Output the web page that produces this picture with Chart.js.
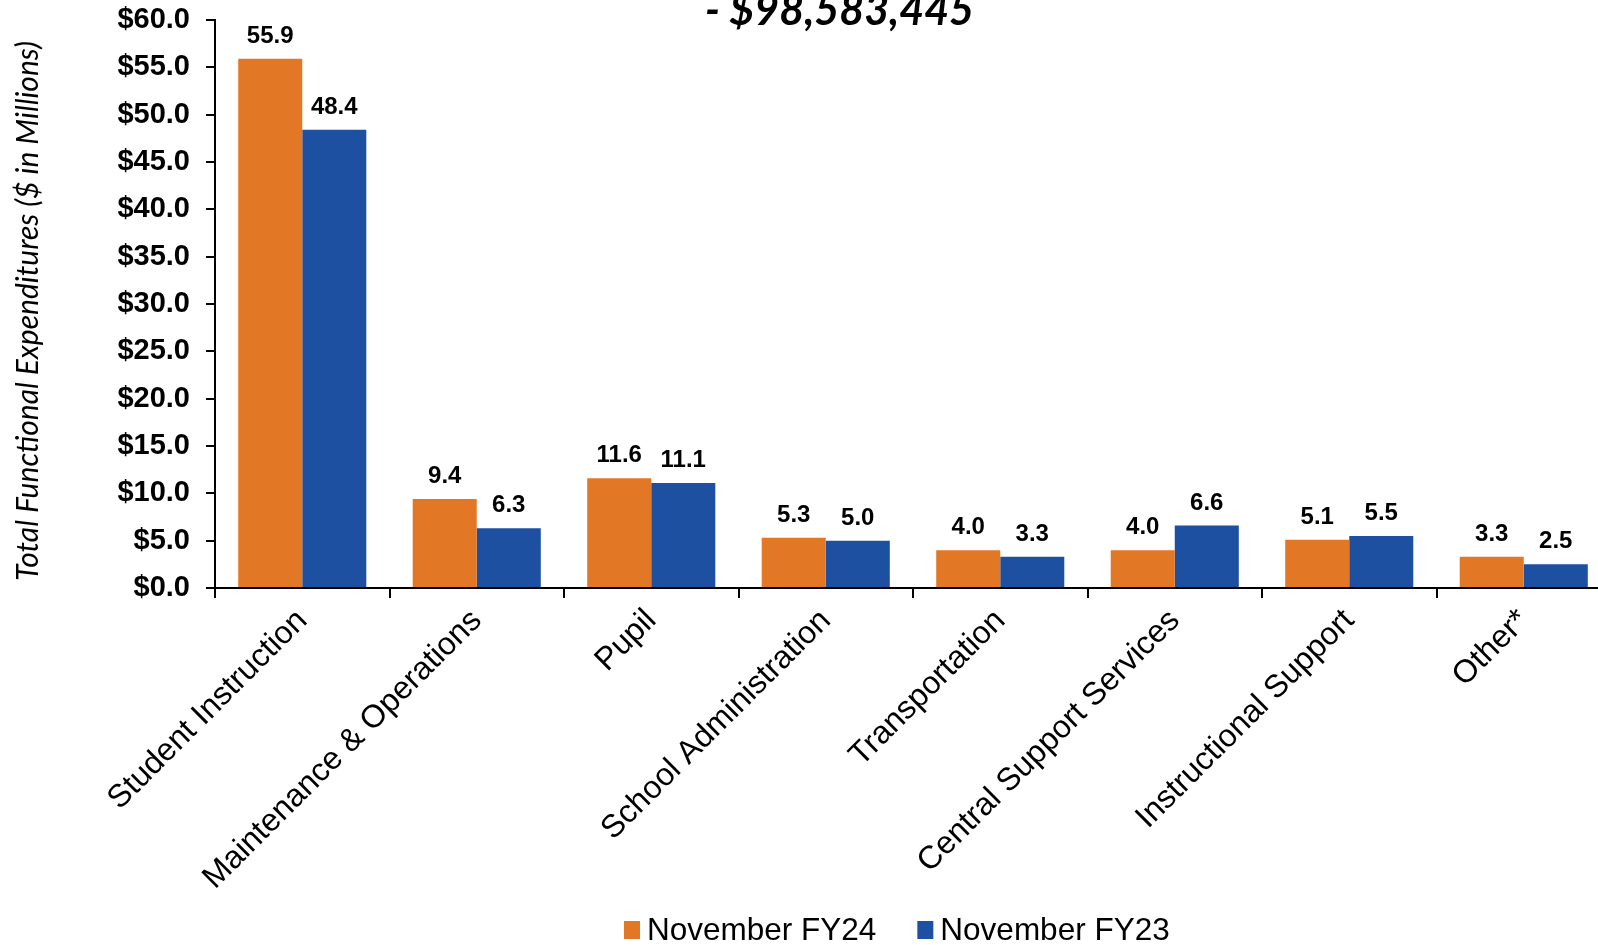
<!DOCTYPE html>
<html>
<head>
<meta charset="utf-8">
<script src="https://cdn.jsdelivr.net/npm/chart.js@4/dist/chart.umd.min.js"></script>
<style>
  html, body { margin: 0; padding: 0; background: #fff; overflow: hidden; }
  #wrap { width: 1620px; height: 945px; }
</style>
</head>
<body>
<div id="wrap"><canvas id="myChart" width="1620" height="945"></canvas></div>
<script>
var categories = ["Student Instruction", "Maintenance & Operations", "Pupil", "School Administration",
    "Transportation", "Central Support Services", "Instructional Support", "Other*"];
var fy24 = [55.9, 9.4, 11.6, 5.3, 4.0, 4.0, 5.1, 3.3];
var fy23 = [48.4, 6.3, 11.1, 5.0, 3.3, 6.6, 5.5, 2.5];
var seriesNames = ["November FY24", "November FY23"];
var titleText = "- $98,583,445";
var yTitle = "Total Functional Expenditures ($ in Millions)";

var ORANGE = "#E27826";
var BLUE = "#1E50A2";
var ARIAL = "'Liberation Sans', Arial, sans-serif";

// value labels over each bar
var barValues = {
    id: "barValues",
    afterDatasetsDraw: function (chart) {
        var ctx = chart.ctx;
        ctx.save();
        ctx.font = "bold 24px " + ARIAL;
        ctx.fillStyle = "#000";
        ctx.textAlign = "center";
        ctx.textBaseline = "alphabetic";
        chart.data.datasets.forEach(function (ds, i) {
            chart.getDatasetMeta(i).data.forEach(function (bar, j) {
                ctx.fillText(ds.data[j].toFixed(1), bar.x, bar.y - 16);
            });
        });
        ctx.restore();
    }
};

// cut-off title line, rotated axis title and the legend row
var extraText = {
    id: "extraText",
    afterDraw: function (chart) {
        var ctx = chart.ctx;
        ctx.save();
        ctx.fillStyle = "#000";
        ctx.font = "italic bold 43px Lato, 'Open Sans', sans-serif";
        ctx.textAlign = "left";
        ctx.textBaseline = "alphabetic";
        ctx.fillText(titleText, 705, 25);

        // legend
        ctx.font = "31.5px " + ARIAL;
        var x = 624;
        chart.data.datasets.forEach(function (ds) {
            ctx.fillStyle = ds.backgroundColor;
            ctx.fillRect(x, 921, 16, 18);
            ctx.fillStyle = "#000";
            ctx.fillText(ds.label, x + 23, 940);
            x += 23 + ctx.measureText(ds.label).width + 41;
        });

        ctx.translate(28, 311);
        ctx.rotate(-Math.PI / 2);
        ctx.font = "italic 30px Lato, 'Open Sans', sans-serif";
        ctx.textAlign = "center";
        ctx.textBaseline = "middle";
        ctx.fillText(yTitle, 0, 0);
        ctx.restore();
    }
};

var ctx = document.getElementById("myChart").getContext("2d");
var myChart = new Chart(ctx, {
    type: "bar",
    data: {
        labels: categories,
        datasets: [
            { label: seriesNames[0], data: fy24, backgroundColor: ORANGE },
            { label: seriesNames[1], data: fy23, backgroundColor: BLUE }
        ]
    },
    plugins: [barValues, extraText],
    options: {
        responsive: false,
        animation: false,
        layout: { padding: { left: 0, right: 9, top: 20, bottom: 0 } },
        datasets: {
            bar: { barPercentage: 1.0, categoryPercentage: 0.734 }
        },
        plugins: {
            legend: { display: false },
            title: { display: false },
            tooltip: { enabled: false }
        },
        scales: {
            x: {
                afterFit: function (scale) { scale.height = 945 - 588; },
                grid: {
                    offset: true,
                    drawOnChartArea: false,
                    drawTicks: true,
                    tickLength: 10,
                    color: "#000",
                    lineWidth: 2
                },
                border: { display: true, color: "#000", width: 2 },
                ticks: {
                    color: "#000",
                    minRotation: 45,
                    maxRotation: 45,
                    autoSkip: false,
                    padding: 4,
                    font: { family: ARIAL, size: 32 }
                }
            },
            y: {
                min: 0,
                max: 60,
                afterFit: function (scale) {
                    scale.width = 215;
                    scale.paddingTop = 16;
                    scale.paddingBottom = 16;
                },
                grid: {
                    drawOnChartArea: false,
                    drawTicks: true,
                    tickLength: 9,
                    color: "#000",
                    lineWidth: 2
                },
                border: { display: true, color: "#000", width: 2 },
                ticks: {
                    stepSize: 5,
                    color: "#000",
                    padding: 16,
                    font: { family: ARIAL, size: 29, weight: "bold" },
                    callback: function (v) { return "$" + v.toFixed(1); }
                }
            }
        }
    }
});
</script>
</body>
</html>
